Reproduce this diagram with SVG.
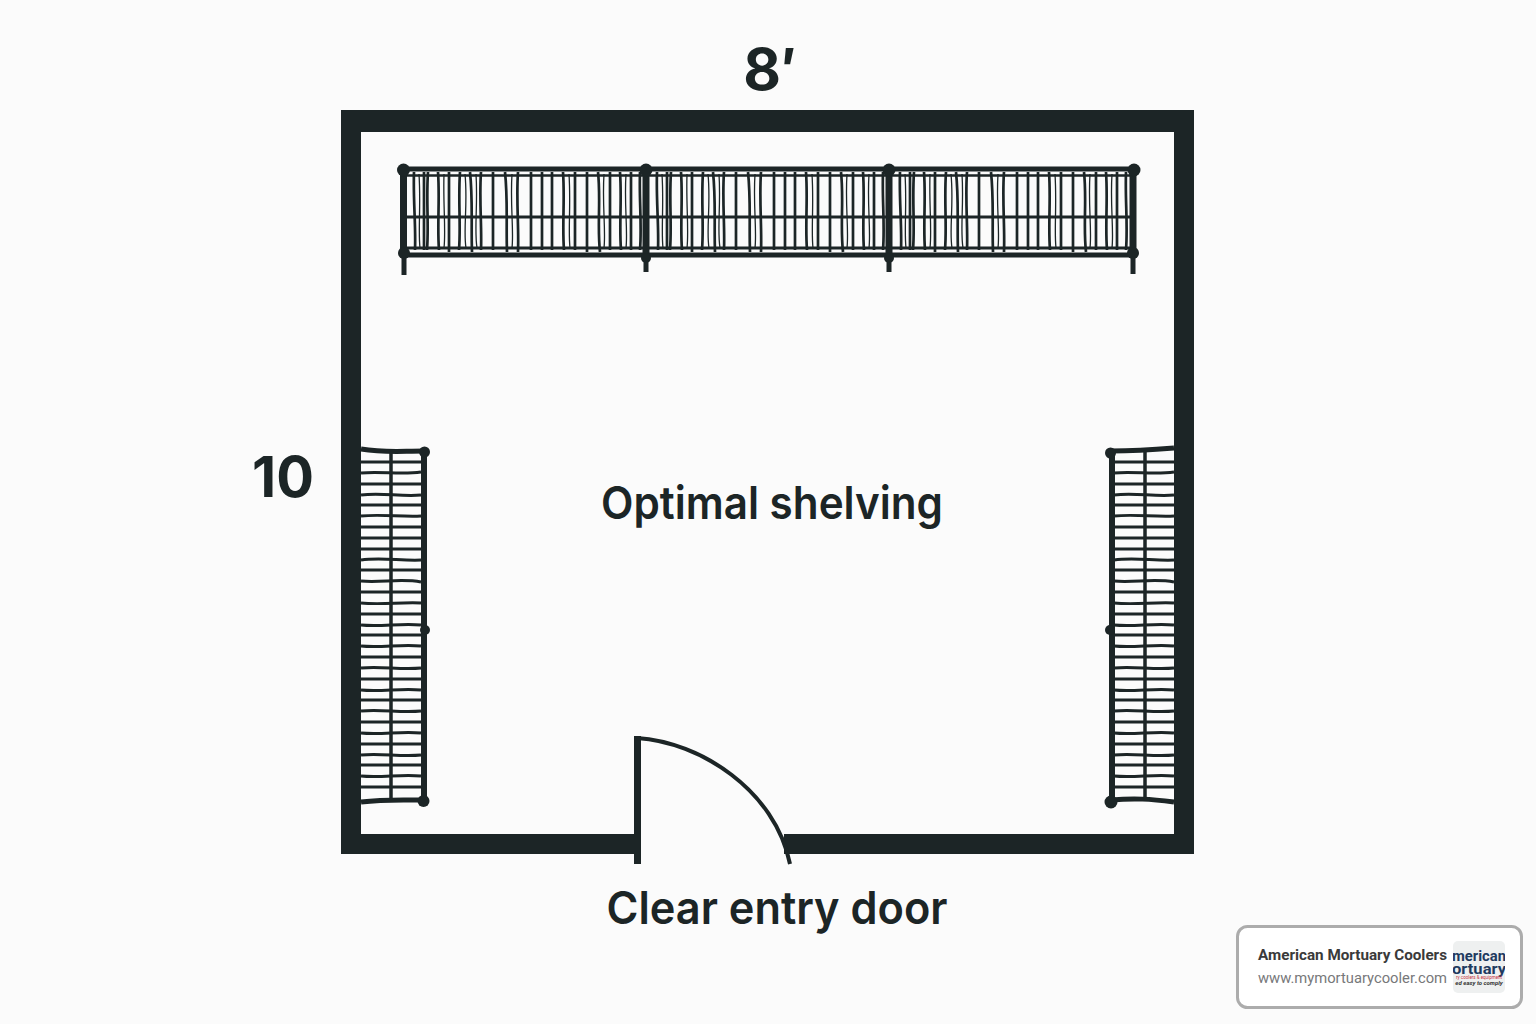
<svg xmlns="http://www.w3.org/2000/svg" width="1536" height="1024" viewBox="0 0 1536 1024">
<style>
.ink{fill:#1c2526}
.r{stroke:#1c2526;fill:none}
.t{font-family:"Inter","Noto Sans",sans-serif;fill:#1c2526}
.c{font-family:"Roboto","Liberation Sans",sans-serif}
</style>
<defs>
<clipPath id="lc"><rect x="1453" y="941" width="52" height="52" rx="5"/></clipPath>
<g id="bay">
<path class="r" stroke-width="2.700" d="M414 172C413 200 416 225 415 250M424 172V250M428 172C426 200 429 225 427 250M438 172C440 200 437 225 439 250M449 172V252M460 172C458 200 461 225 459 250M470 172C473 200 471 225 472 252M481 172C479 200 482 225 481 250M493 172V250M505 172C508 200 506 225 507 252M518 172C516 200 519 225 518 252M531 172V250M542 172V250M552 172V250M563 172C565 200 562 225 564 250M575 172V250M587 172V252M598 172C601 200 597 225 600 252M610 172V250M620 172C622 200 619 225 621 250M631 172V250M640 172C639 200 642 225 640 250"/>
<path class="r" stroke-width="1.300" d="M419 174C421 205 418 230 420 248M444 174C443 205 446 230 444 248M465 174C468 205 463 230 466 248M476 174C478 205 474 230 477 248M512 174C510 205 514 230 512 248M569 174C571 205 568 230 570 248M604 174C602 205 606 230 604 248M626 174C624 205 628 230 626 248"/>
</g>
<g id="rungs">
<path class="r" stroke-width="3" d="M0 462H60M0 473C20 471 40 475 60 472M0 484H60M0 495C20 492 40 497 60 495M0 505H60M0 516C20 514 40 517 60 516M0 527H60M0 538H60M0 549H60M0 560C20 557 40 561 60 560M0 570H60M0 581C20 583 40 578 60 582M0 592H60M0 603C20 605 40 602 60 603M0 614H60M0 625C20 627 40 623 60 625M0 635H60M0 646C20 648 40 644 60 646M0 657H60M0 668C20 666 40 670 60 668M0 679H60M0 690C20 692 40 688 60 690M0 700H60M0 711C20 709 40 713 60 711M0 722H60M0 733C20 735 40 731 60 733M0 744H60M0 755C20 753 40 757 60 755M0 765H60M0 776C20 778 40 774 60 776M0 787H60"/>
</g>
</defs>
<rect width="1536" height="1024" fill="#fbfbfb"/>

<g id="walls">
<path class="ink" d="M341 110H1194V854H784V834H1174V132H361V834H640V854H341Z"/>
</g>

<g id="door">
<rect class="ink" x="634" y="736" width="7" height="128"/>
<path class="r" stroke-width="4" d="M637 738C700 742 775 790 790 864"/>
</g>

<g id="shelf-top">
<use href="#bay"/>
<use href="#bay" x="243"/>
<use href="#bay" x="486"/>
<path class="r" stroke-width="5" d="M404 169H1134M404 255H1134"/>
<path class="r" stroke-width="2.500" d="M404 175.500H1134"/>
<path class="r" stroke-width="3" d="M404 217H1134"/>
<path class="r" stroke-width="3" d="M404 248H1134"/>
<path class="r" stroke-width="7" d="M403.500 170V256M646 170V258M889 170V258M1133 170V256"/>
<path class="r" stroke-width="5" d="M404 254V275M646 256V272M889 256V272M1133 254V274"/>
<g class="ink">
<circle cx="403.500" cy="170" r="6.500"/><circle cx="646" cy="170" r="6.500"/><circle cx="889" cy="170" r="6.500"/><circle cx="1134" cy="170" r="6.500"/>
<circle cx="404" cy="253" r="6"/><circle cx="646" cy="258" r="5"/><circle cx="889" cy="258" r="5"/><circle cx="1133" cy="253" r="6"/>
</g>
</g>

<g id="shelf-left">
<use href="#rungs" x="361"/>
<path class="r" stroke-width="5" d="M361 449C385 453 400 451 424 451M361 802C385 799 400 800 424 800"/>
<path class="r" stroke-width="3.500" d="M391 451V800"/>
<path class="r" stroke-width="6" d="M424 452V801"/>
<g class="ink"><circle cx="424.500" cy="452" r="5.500"/><circle cx="425" cy="630" r="5"/><circle cx="423.500" cy="801" r="6"/></g>
</g>

<g id="shelf-right">
<use href="#rungs" x="1114"/>
<path class="r" stroke-width="5" d="M1111 451C1135 451 1150 450 1174 448M1111 800C1135 798 1150 799 1174 802"/>
<path class="r" stroke-width="3.500" d="M1145 451V800"/>
<path class="r" stroke-width="6" d="M1112 452V801"/>
<g class="ink"><circle cx="1110.500" cy="453" r="5.500"/><circle cx="1110" cy="630" r="5"/><circle cx="1111" cy="802" r="6.500"/></g>
</g>

<g id="labels">
<text class="t" x="770" y="90" font-size="58" font-weight="700" text-anchor="middle">8′</text>
<text class="t" x="283" y="497" font-size="56" font-weight="700" text-anchor="middle">10</text>
<text class="t" x="772" y="519" font-size="45" font-weight="600" text-anchor="middle" textLength="342" lengthAdjust="spacingAndGlyphs">Optimal shelving</text>
<text class="t" x="777" y="924" font-size="45" font-weight="600" text-anchor="middle" textLength="341" lengthAdjust="spacingAndGlyphs">Clear entry door</text>
</g>

<g id="badge">
<rect x="1237.500" y="926.500" width="284" height="81" rx="10" fill="#fff" stroke="#acacac" stroke-width="3"/>
<text class="c" x="1258" y="960" font-size="14.500" font-weight="700" fill="#3a3a3a" textLength="189" lengthAdjust="spacingAndGlyphs">American Mortuary Coolers</text>
<text class="c" x="1258" y="983" font-size="14.500" fill="#77787a" textLength="189" lengthAdjust="spacingAndGlyphs">www.mymortuarycooler.com</text>
<rect x="1453" y="941" width="52" height="52" rx="5" fill="#eef0f0"/>
<g clip-path="url(#lc)">
<text class="c" x="1479" y="961" font-size="14" font-weight="700" fill="#1f3a5f" text-anchor="middle" textLength="54" lengthAdjust="spacingAndGlyphs">merican</text>
<text class="c" x="1479" y="974" font-size="14" font-weight="700" fill="#1f3a5f" text-anchor="middle" textLength="54" lengthAdjust="spacingAndGlyphs">ortuary</text>
<text class="c" x="1479" y="979" font-size="4.500" fill="#c8323c" text-anchor="middle">ry coolers &amp; equipment</text>
<text class="c" x="1479" y="985" font-size="6" font-style="italic" font-weight="700" fill="#333" text-anchor="middle">ed easy to comply</text>
</g>
</g>
</svg>
